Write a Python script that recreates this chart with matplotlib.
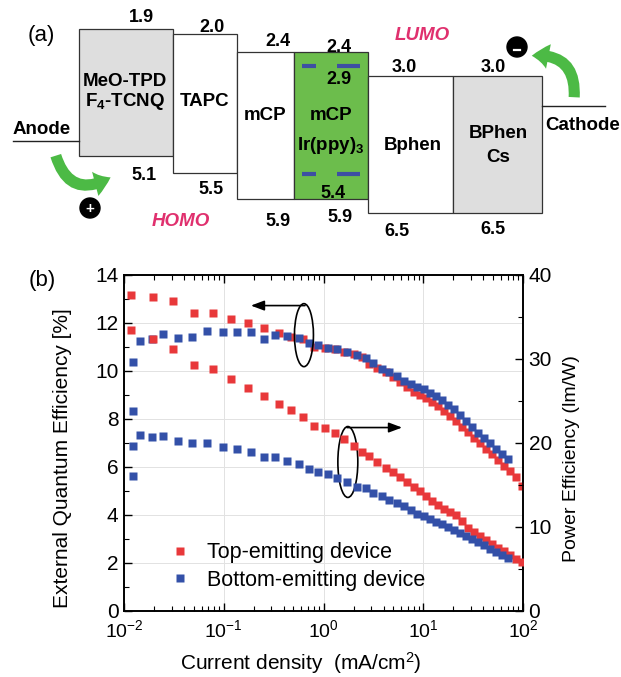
import numpy as np
import matplotlib
matplotlib.use("Agg")
import matplotlib.pyplot as plt
from matplotlib.patches import Rectangle, Ellipse, FancyArrowPatch, Circle, ArrowStyle
from matplotlib.ticker import MultipleLocator, LogLocator, NullFormatter

plt.rcParams['font.family'] = ['Liberation Sans', 'DejaVu Sans']
plt.rcParams['mathtext.fontset'] = 'custom'
plt.rcParams['mathtext.rm'] = 'Liberation Sans'
plt.rcParams['mathtext.it'] = 'Liberation Sans:italic'
plt.rcParams['mathtext.bf'] = 'Liberation Sans:bold'

# ---------------- data: panel (a) energy levels ----------------
layer_names = ["MeO-TPD|F$_\\mathbf{4}$-TCNQ", "TAPC", "mCP", "mCP|Ir(ppy)$_\\mathbf{3}$", "Bphen", "BPhen|Cs"]
lumo = [1.9, 2.0, 2.4, 2.4, 3.0, 3.0]
homo = [5.1, 5.5, 5.9, 5.9, 6.5, 6.5]
dopant_lumo = 2.9
dopant_homo = 5.4

# ---------------- data: panel (b) ----------------
top_J = [0.0117, 0.0195, 0.0309, 0.0501, 0.0785, 0.118, 0.174, 0.254, 0.358, 0.472,
         0.624, 0.80, 1.04, 1.31, 1.62, 2.0, 2.45, 2.88, 3.47, 4.22,
         5.01, 5.89, 6.92, 8.13, 9.33, 10.7, 12.3, 14.1, 16.2, 18.6,
         21.4, 24.5, 28.2, 32.4, 37.2, 42.7, 49.0, 56.2, 64.6, 74.1,
         85.1, 97.7]
top_eqe = [13.17, 13.1, 12.9, 12.4, 12.4, 12.17, 12.0, 11.8, 11.58, 11.43,
           11.33, 11.0, 10.97, 10.9, 10.8, 10.7, 10.58, 10.29, 10.14, 9.97,
           9.75, 9.55, 9.35, 9.13, 8.98, 8.86, 8.72, 8.55, 8.35, 8.13,
           7.9, 7.67, 7.45, 7.22, 6.98, 6.75, 6.53, 6.3, 6.06, 5.82,
           5.58, 5.2]
top_pe = [33.45, 32.4, 31.2, 29.3, 28.8, 27.6, 26.6, 25.6, 24.65, 23.9,
          23.15, 22.05, 21.75, 21.15, 20.5, 19.7, 18.9, 18.4, 17.7, 17.0,
          16.6, 15.9, 15.4, 14.75, 14.25, 13.7, 13.1, 12.6, 12.2, 11.8,
          11.4, 10.7, 9.9, 9.4, 8.9, 8.45, 8.0, 7.55, 7.1, 6.65,
          6.25, 5.8]

bottom_J = [0.0122, 0.0122, 0.0145, 0.0191, 0.0248, 0.0345, 0.0484, 0.0684, 0.0975, 0.135,
            0.186, 0.255, 0.329, 0.434, 0.568, 0.721, 0.887, 1.12, 1.37, 1.71,
            2.15, 2.67, 3.16, 3.83, 4.57, 5.46, 6.41, 7.53, 8.75, 10.2,
            11.7, 13.4, 15.4, 17.7, 20.3, 23.3, 26.8, 30.8, 35.4, 40.6,
            46.7, 53.6, 61.5, 70.0]
bottom_eqe = [8.33, 10.36, 11.26, 11.32, 11.53, 11.39, 11.43, 11.67, 11.61, 11.64,
              11.61, 11.33, 11.5, 11.45, 11.36, 11.15, 11.1, 10.97, 10.9, 10.78,
              10.67, 10.53, 10.32, 10.1, 9.95, 9.8, 9.6, 9.45, 9.35, 9.25,
              9.1, 8.95, 8.8, 8.6, 8.4, 8.15, 7.92, 7.65, 7.4, 7.2,
              6.98, 6.75, 6.55, 6.35]
bottom_pe = [16.1, 19.7, 21.0, 20.7, 20.8, 20.2, 19.96, 20.0, 19.56, 19.3,
             18.97, 18.3, 18.3, 17.86, 17.5, 16.9, 16.6, 16.27, 15.8, 15.4,
             14.8, 14.6, 14.08, 13.7, 13.25, 12.85, 12.45, 12.0, 11.6, 11.3,
             11.0, 10.65, 10.3, 9.95, 9.6, 9.25, 8.9, 8.55, 8.2, 7.8,
             7.4, 7.0, 6.65, 6.3]

series_labels = ["Top-emitting device", "Bottom-emitting device"]
x_ticks = [1e-2, 1e-1, 1e0, 1e1, 1e2]
eqe_ticks = [0, 2, 4, 6, 8, 10, 12, 14]
pe_ticks = [0, 10, 20, 30, 40]

# ---------------- layout / style ----------------
W, H = 621, 677
fig = plt.figure(figsize=(W / 100, H / 100), dpi=100)

RED = '#e8383a'
BLUE = '#3350a8'
GREEN = '#6cbd4c'
GRAY = '#dedede'
ARROW_GREEN = '#4cba45'
PINK = '#e0306e'

# Panel (a): pixel-like coordinates
axa = fig.add_axes([0, 0, 1, 1])
axa.set_xlim(0, W)
axa.set_ylim(H, 0)
axa.axis('off')

x_edges = [79, 173, 237, 294, 368, 453, 542]
top_px = [29, 34, 52.3, 52.3, 75.7, 75.7]
bot_px = [156, 173, 199.3, 199.3, 213.3, 213.3]
fills = [GRAY, 'white', 'white', GREEN, 'white', GRAY]
for i in range(6):
    axa.add_patch(Rectangle((x_edges[i], top_px[i]), x_edges[i + 1] - x_edges[i],
                            bot_px[i] - top_px[i], facecolor=fills[i],
                            edgecolor='#333333', lw=0.9, zorder=2))

LFS = 13.5
# layer labels
label_pos = [(125, [82, 101]), (205, [101]), (265, [116]), (331, [116, 145]),
             (413, [146]), (498, [134, 158])]
for name, (cx, ys) in zip(layer_names, label_pos):
    for part, yy in zip(name.split('|'), ys):
        axa.text(cx, yy, part, ha='center', va='center', fontsize=LFS,
                 fontweight='bold', zorder=5)

# dopant dashes
for yy in [65.7, 174]:
    for xa, xb in [(302, 316), (337, 360)]:
        axa.plot([xa, xb], [yy, yy], color='#3d4fa3', lw=3.0, solid_capstyle='butt', zorder=4)

# energy labels
NFS = 13
lumo_pos = [(141, 18), (212, 27), (278, 42), (339, 47), (404, 68), (493, 68)]
homo_pos = [(144, 175), (211, 190), (278, 221), (340, 218), (397, 231), (493, 230)]
for v, (px, py) in zip(lumo, lumo_pos):
    axa.text(px, py, f"{v:.1f}", ha='center', va='center', fontsize=NFS, fontweight='bold')
for v, (px, py) in zip(homo, homo_pos):
    axa.text(px, py, f"{v:.1f}", ha='center', va='center', fontsize=NFS, fontweight='bold')
axa.text(339, 80, f"{dopant_lumo:.1f}", ha='center', va='center', fontsize=NFS, fontweight='bold', zorder=5)
axa.text(333, 193, f"{dopant_homo:.1f}", ha='center', va='center', fontsize=NFS, fontweight='bold', zorder=5)

# electrodes
axa.plot([13, 79], [141, 141], color='#222222', lw=1.0)
axa.text(42, 130, "Anode", ha='center', va='center', fontsize=LFS, fontweight='bold')
axa.plot([542, 605], [106, 106], color='#222222', lw=1.0)
axa.text(583, 126, "Cathode", ha='center', va='center', fontsize=LFS, fontweight='bold')

axa.text(41, 36, "(a)", ha='center', va='center', fontsize=16)
axa.text(181, 221, "HOMO", ha='center', va='center', fontsize=13.5, fontweight='bold',
         style='italic', color=PINK)
axa.text(422, 35, "LUMO", ha='center', va='center', fontsize=13.5, fontweight='bold',
         style='italic', color=PINK)

# green curved arrows
st = ArrowStyle.Simple(head_length=0.6, head_width=0.9, tail_width=0.4)
axa.add_patch(FancyArrowPatch((55, 153), (113, 176), connectionstyle="arc3,rad=0.65",
                              arrowstyle=st, mutation_scale=20, color=ARROW_GREEN, lw=0, zorder=3))
axa.add_patch(FancyArrowPatch((574, 100), (529, 56), connectionstyle="arc3,rad=0.6",
                              arrowstyle=st, mutation_scale=20, color=ARROW_GREEN, lw=0, zorder=3))
# charges
axa.add_patch(Circle((90, 208), 10, color='black', zorder=3))
axa.text(90, 208.5, "+", ha='center', va='center', color='white', fontsize=11, fontweight='bold', zorder=4)
axa.add_patch(Circle((517, 47), 10, color='black', zorder=3))
axa.plot([514, 520], [50, 50], color='white', lw=1.6, zorder=4)

# ---------------- Panel (b) ----------------
ax = fig.add_axes([124 / W, 1 - 611 / H, 399 / W, 336 / H])
ax2 = ax.twinx()
ax.set_xscale('log')
ax.set_xlim(1e-2, 1e2)
ax.set_ylim(0, 14)
ax2.set_ylim(0, 40)

ms = 5.3
h1, = ax.plot(top_J, top_eqe, 's', color=RED, ms=ms, mec='none', zorder=3)
h2, = ax.plot(bottom_J, bottom_eqe, 's', color=BLUE, ms=ms, mec='none', zorder=3)
ax2.plot(top_J, top_pe, 's', color=RED, ms=ms, mec='none', zorder=3)
ax2.plot(bottom_J, bottom_pe, 's', color=BLUE, ms=ms, mec='none', zorder=3)

ax.set_axisbelow(True)
ax.grid(True, which='major', color='#e2e2e2', lw=0.7)
ax.set_xticks(x_ticks)
ax.xaxis.set_minor_locator(LogLocator(base=10, subs=np.arange(2, 10)))
ax.xaxis.set_minor_formatter(NullFormatter())
ax.set_yticks(eqe_ticks)
ax.yaxis.set_minor_locator(MultipleLocator(1))
ax2.set_yticks(pe_ticks)
ax2.yaxis.set_minor_locator(MultipleLocator(5))

ax.tick_params(which='both', direction='in', top=True, right=False)
ax.tick_params(axis='x', labelsize=14, pad=6)
ax.tick_params(axis='y', labelsize=15, pad=4)
ax.tick_params(which='major', length=6, width=1.0)
ax.tick_params(which='minor', length=3.5, width=0.8)
ax2.tick_params(which='both', direction='in', labelsize=15, pad=4)
ax2.tick_params(which='major', length=6, width=1.0)
ax2.tick_params(which='minor', length=3.5, width=0.8)
for a in (ax, ax2):
    for s in a.spines.values():
        s.set_linewidth(1.2)

ax.set_xlabel("Current density  (mA/cm$^2$)", fontsize=15)
ax.xaxis.set_label_coords(0.444, -0.115)
ax.set_ylabel("External Quantum Efficiency [%]", fontsize=15)
ax.yaxis.set_label_coords(-0.13, 0.455)
ax2.set_ylabel("Power Efficiency (lm/W)", fontsize=14)
ax2.yaxis.set_label_coords(1.10, 0.455)

ax.legend([h1, h2], series_labels, loc='lower left', bbox_to_anchor=(0.12, 0.06),
          frameon=False, fontsize=15.5, handlelength=0.8, handletextpad=0.85,
          labelspacing=0.3, borderaxespad=0, borderpad=0)

# ellipses + arrows indicating axes
ax.add_patch(Ellipse((0.451, 0.821), 0.0476, 0.1875, transform=ax.transAxes,
                     fill=False, ec='black', lw=1.2, zorder=5))
ax.annotate("", xy=(0.318, 0.909), xytext=(0.4536, 0.909), xycoords='axes fraction',
            arrowprops=dict(arrowstyle='-|>,head_length=0.8,head_width=0.3', color='black', lw=1.2,
                            shrinkA=0, shrinkB=0), zorder=5)
ax.add_patch(Ellipse((0.561, 0.4435), 0.050, 0.211, transform=ax.transAxes,
                     fill=False, ec='black', lw=1.2, zorder=5))
ax.annotate("", xy=(0.697, 0.546), xytext=(0.559, 0.546), xycoords='axes fraction',
            arrowprops=dict(arrowstyle='-|>,head_length=0.8,head_width=0.3', color='black', lw=1.2,
                            shrinkA=0, shrinkB=0), zorder=5)

fig.text(42 / W, 1 - 281 / H, "(b)", ha='center', va='center', fontsize=16)

fig.savefig("out.png", dpi=100)
